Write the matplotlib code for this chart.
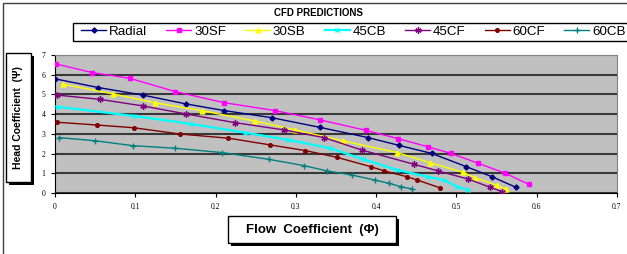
import matplotlib.pyplot as plt
from matplotlib.patches import Rectangle
import numpy as np

# data
radial_x = [0.0, 0.054, 0.109, 0.163, 0.211, 0.270, 0.330, 0.390, 0.428, 0.469, 0.512, 0.544, 0.574]
radial_y = [5.79, 5.35, 4.97, 4.52, 4.18, 3.82, 3.33, 2.81, 2.42, 2.01, 1.34, 0.83, 0.29]

sf30_x = [0.001, 0.046, 0.093, 0.150, 0.211, 0.274, 0.330, 0.387, 0.427, 0.464, 0.493, 0.527, 0.561, 0.590]
sf30_y = [6.55, 6.11, 5.82, 5.14, 4.58, 4.18, 3.71, 3.18, 2.76, 2.35, 2.01, 1.51, 1.00, 0.44]

sb30_x = [0.010, 0.072, 0.124, 0.183, 0.249, 0.299, 0.359, 0.426, 0.467, 0.508, 0.523, 0.550, 0.562]
sb30_y = [5.52, 5.03, 4.58, 4.18, 3.65, 3.20, 2.64, 2.05, 1.54, 1.05, 0.78, 0.39, 0.20]

cb45_x = [0.002, 0.098, 0.170, 0.237, 0.290, 0.343, 0.384, 0.426, 0.464, 0.484, 0.501, 0.515]
cb45_y = [4.38, 3.91, 3.50, 3.06, 2.70, 2.27, 1.71, 1.17, 0.83, 0.66, 0.32, 0.15]

cf45_x = [0.002, 0.056, 0.109, 0.163, 0.224, 0.285, 0.335, 0.382, 0.447, 0.477, 0.515, 0.542, 0.557]
cf45_y = [4.97, 4.75, 4.42, 4.01, 3.57, 3.20, 2.81, 2.18, 1.46, 1.12, 0.70, 0.29, 0.07]

cf60_x = [0.002, 0.052, 0.098, 0.156, 0.216, 0.268, 0.312, 0.351, 0.393, 0.410, 0.438, 0.451, 0.479]
cf60_y = [3.59, 3.45, 3.31, 2.99, 2.78, 2.44, 2.15, 1.81, 1.34, 1.12, 0.83, 0.66, 0.27]

cb60_x = [0.005, 0.050, 0.097, 0.150, 0.208, 0.266, 0.310, 0.339, 0.370, 0.398, 0.416, 0.431, 0.445]
cb60_y = [2.81, 2.65, 2.40, 2.27, 2.05, 1.71, 1.39, 1.12, 0.91, 0.66, 0.49, 0.32, 0.20]

names = ['Radial', '30SF', '30SB', '45CB', '45CF', '60CF', '60CB']
xs = [radial_x, sf30_x, sb30_x, cb45_x, cf45_x, cf60_x, cb60_x]
ys = [radial_y, sf30_y, sb30_y, cb45_y, cf45_y, cf60_y, cb60_y]
colors = ['#000080', '#FF00FF', '#FFFF00', '#00FFFF', '#800080', '#800000', '#008080']
markers = ['D', 's', '^', 'x', (6, 2, 0), 'o', '+']
msizes = [2.6, 3, 3.5, 3.5, 4.5, 2.6, 4.5]

W, H = 627, 254
fig = plt.figure(figsize=(W / 100, H / 100), dpi=100)

ax = fig.add_axes([55 / W, 1 - 193 / H, 562 / W, 138 / H])
ax.set_facecolor('#C0C0C0')

lines = []
for x, y, c, m, ms, n in zip(xs, ys, colors, markers, msizes, names):
    lw = 1.6 if n == '45CB' else 1.0
    l, = ax.plot(x, y, color=c, marker=m, markersize=ms, lw=lw, mew=1.0, label=n, zorder=3)
    lines.append(l)

ax.set_xlim(0, 0.7)
ax.set_ylim(0, 7)
ax.set_xticks(np.arange(0, 0.71, 0.1))
ax.set_xticklabels(['0', '0.1', '0.2', '0.3', '0.4', '0.5', '0.6', '0.7'])
ax.set_yticks(range(8))
ax.yaxis.grid(True, color='#383838', lw=1.5, zorder=1)
ax.set_axisbelow(True)
for lab in ax.get_xticklabels() + ax.get_yticklabels():
    lab.set_fontfamily('Liberation Serif')
    lab.set_fontsize(5.5)
ax.tick_params(axis='both', length=3, width=0.8, pad=4, color='black')
ax.spines['left'].set_color('black')
ax.spines['bottom'].set_color('black')
ax.spines['top'].set_color('#808080')
ax.spines['right'].set_color('#808080')

# outer frame
fig.patches.append(Rectangle((3 / W, -0.1), 1.2, 1 - 3 / H + 0.1, transform=fig.transFigure,
                             fill=False, ec='#404040', lw=1.0))

fig.text(318 / W, 1 - 13 / H, 'CFD PREDICTIONS', ha='center', va='center',
         fontsize=7, fontweight='bold', family='Liberation Sans')

# legend frame drawn by hand, it runs past the right edge like the original
fig.patches.append(Rectangle((73 / W, 1 - 41 / H), 700 / W, 18 / H, transform=fig.transFigure,
                             fill=True, fc='white', ec='black', lw=1.0))
leg = fig.legend(handles=lines, loc='center left', bbox_to_anchor=(81 / W, 1 - 32 / H),
                 ncol=7, frameon=False,
                 prop={'family': 'Liberation Sans', 'size': 9.6},
                 handlelength=1.9, handletextpad=0.2, columnspacing=1.42,
                 borderpad=0, borderaxespad=0)


def label_box(x0, y0, x1, y1, text, rot, size):
    # shadow then box, pixel coordinates from top-left
    sh = 3
    fig.patches.append(Rectangle((x0 / W + sh / W, 1 - (y1 + sh) / H), (x1 - x0) / W, (y1 - y0) / H,
                                 transform=fig.transFigure, fc='black', ec='black', lw=0))
    fig.patches.append(Rectangle((x0 / W, 1 - y1 / H), (x1 - x0) / W, (y1 - y0) / H,
                                 transform=fig.transFigure, fc='white', ec='black', lw=1.0))
    fig.text((x0 + x1) / 2 / W, 1 - (y0 + y1) / 2 / H, text, rotation=rot, ha='center', va='center',
             fontsize=size, fontweight='bold', family=['Liberation Sans', 'DejaVu Sans'])


label_box(6, 53, 31, 182, 'Head Coefficient  (\u03a8)', 90, 7.5)
label_box(228, 216, 396, 243, 'Flow  Coefficient  (\u03a6)', 0, 9.5)

fig.savefig('out.png', dpi=100)
